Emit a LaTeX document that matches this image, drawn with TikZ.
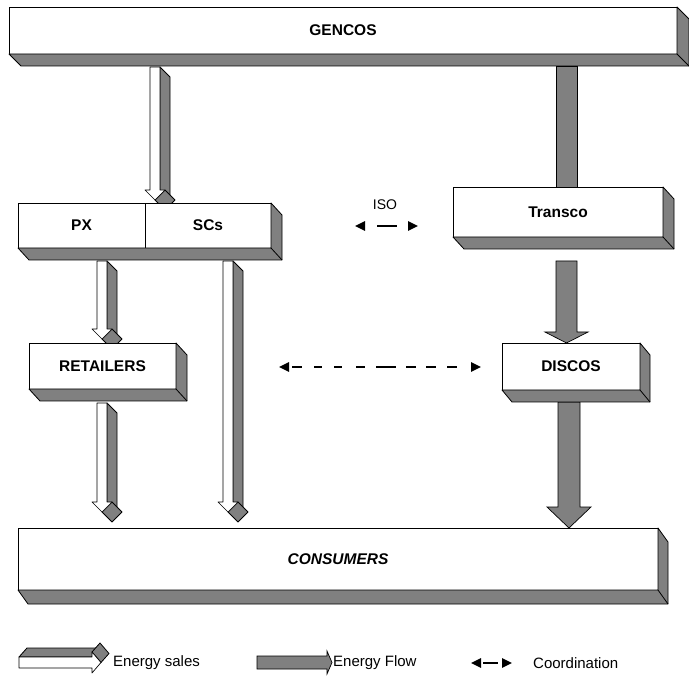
\documentclass[tikz,border=0pt]{standalone}
\usepackage{fontspec}
\setmainfont{Liberation Sans}
\usetikzlibrary{arrows.meta}
\definecolor{sidegray}{HTML}{808080}
\tikzset{
  slab/.style={draw=black, fill=white, line width=0.8pt, inner sep=0pt, outer sep=0pt,
    anchor=north west, font=\bfseries\fontsize{15.5}{18}\selectfont},
  depthface/.style={fill=sidegray, draw=black, line width=0.8pt, line join=round},
  salesface/.style={fill=white, draw=black, line width=0.7pt, line join=round},
  flowarrow/.style={fill=sidegray, draw=black, line width=0.7pt},
  coordarrow/.style={line width=2.4pt,
    {Triangle[length=10pt,width=9pt]}-{Triangle[length=10pt,width=9pt]}},
  legendtext/.style={font=\fontsize{15}{18}\selectfont, inner sep=0pt, anchor=west},
}
% 3-D "energy sales" arrow pointing down: #1 left edge of shaft, #2 top, #3 top of head
\newcommand\salesdown[3]{%
  \path[depthface] (#1+10,#2) -- (#1+20,#2+10) -- (#1+20,#3+10) -- (#1+10,#3) -- cycle;
  \path[depthface] (#1+15,#3) -- (#1+25,#3+10) -- (#1+15,#3+20) -- (#1+5,#3+10) -- cycle;
  \path[salesface] (#1,#2) -- (#1+10,#2) -- (#1+10,#3) -- (#1+15,#3) -- (#1+5,#3+10)
    -- (#1-5,#3) -- (#1,#3) -- cycle;
}
% flat "energy flow" arrow pointing down: #1 #2 bar edges, #3 top, #4 head top, #5 tip
\newcommand\flowdown[5]{%
  \path[flowarrow] (#1,#3) -- (#2,#3) -- (#2,#4) -- (#2+11,#4) -- ({(#1+#2)/2},#5)
    -- (#1-11,#4) -- (#1,#4) -- cycle;
}
% depth faces below and right of a slab running from node #1 to node #2
\newcommand\slabdepth[4]{%
  \path[depthface] (#2.north east) -- ++(#3,#4) -- ([shift={(#3,#4)}]#2.south east)
    -- ([shift={(#3,#4)}]#1.south west) -- (#1.south west) -- (#2.south east) -- cycle;
  \draw[line width=0.8pt] (#2.south east) -- ++(#3,#4);
}
\begin{document}
\begin{tikzpicture}[x=1pt,y=-1pt]
\useasboundingbox (0,0) rectangle (689,679);
\fill[white] (0,0) rectangle (689,679);

% arrows run underneath the slabs
\salesdown{150}{67}{190}
\path[flowarrow] (556,66) rectangle (577,188);
\salesdown{97}{261}{329}
\salesdown{223}{261}{502}
\flowdown{556}{577}{261}{332}{343}
\salesdown{97}{403}{502}
\flowdown{558}{580}{402}{507}{528}

% slabs
\node[slab, minimum width=668pt, minimum height=47pt] (gencos) at (9,7) {GENCOS};
\slabdepth{gencos}{gencos}{12}{12}

\node[slab, minimum width=127pt, minimum height=45pt] (px) at (18,203) {PX};
\node[slab, minimum width=126pt, minimum height=45pt] (scs) at (145,203) {SCs};
\slabdepth{px}{scs}{11}{12}

\node[slab, minimum width=210pt, minimum height=50pt] (transco) at (453,187) {Transco};
\slabdepth{transco}{transco}{11}{12}

\node[slab, minimum width=147pt, minimum height=46pt] (retailers) at (29,343) {RETAILERS};
\slabdepth{retailers}{retailers}{11}{12}

\node[slab, minimum width=138pt, minimum height=47pt] (discos) at (502,343) {DISCOS};
\slabdepth{discos}{discos}{10}{12}

\node[slab, minimum width=640pt, minimum height=62pt, font=\bfseries\itshape\fontsize{15.5}{18}\selectfont]
  (consumers) at (18,528) {CONSUMERS};
\slabdepth{consumers}{consumers}{10}{14}

% ISO coordination
\node[font=\fontsize{14}{16}\selectfont, inner sep=0pt] (iso) at (385,205) {ISO};
\coordinate (isoL) at (355,226);
\coordinate (isoR) at (418,226);
\draw[coordarrow, dash pattern=on 0pt off 13pt on 20pt off 20pt] (isoL) -- (isoR);

% retailers / discos coordination
\coordinate (midL) at (279,367);
\coordinate (midR) at (481,367);
\draw[coordarrow, dash pattern=on 0pt off 4pt on 10pt off 12pt on 8pt off 12pt on 8pt off 14pt on 9pt off 11pt on 20pt off 10pt on 10pt off 10pt on 10pt off 11pt on 10pt off 20pt]
  (midL) -- (midR);

% legend: energy sales
\path[depthface] (19,657) -- (92,657) -- (100,648) -- (27,648) -- cycle;
\path[depthface] (92,652) -- (101,662.5) -- (109,653.5) -- (100,643) -- cycle;
\path[salesface] (19,657) -- (92,657) -- (92,652) -- (101,662.5) -- (92,673) -- (92,668)
  -- (19,668) -- cycle;
\node[legendtext] (lsales) at (113,663) {Energy sales};

% legend: energy flow
\path[flowarrow] (257,656) -- (327,656) -- (327,651) -- (332,662.5) -- (327,674)
  -- (327,669) -- (257,669) -- cycle;
\node[legendtext] (lflow) at (333,663) {Energy Flow};

% legend: coordination
\coordinate (legL) at (471,663);
\coordinate (legR) at (512,663);
\draw[coordarrow, dash pattern=on 0pt off 3pt on 15pt off 10pt] (legL) -- (legR);
\node[legendtext] (lcoord) at (533,663) {Coordination};
\end{tikzpicture}
\end{document}
